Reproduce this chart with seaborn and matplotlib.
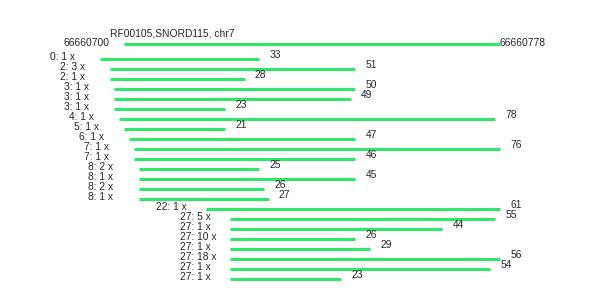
import matplotlib
matplotlib.use("Agg")
import matplotlib.pyplot as plt
import seaborn as sns
import pandas as pd

title = "RF00105,SNORD115, chr7"
genome_start_label = "66660700"
genome_end_label = "66660778"
genome_from = 5
genome_to = 83

starts = [0, 2, 2, 3, 3, 3, 4, 5, 6, 7, 7, 8, 8, 8, 8, 22, 27, 27, 27, 27, 27, 27, 27]
counts = [1, 3, 1, 1, 1, 1, 1, 1, 1, 1, 1, 2, 1, 2, 1, 1, 5, 1, 10, 1, 18, 1, 1]
lengths = [33, 51, 28, 50, 49, 23, 78, 21, 47, 76, 46, 25, 45, 26, 27, 61, 55, 44, 26, 29, 56, 54, 23]

df = pd.DataFrame({"start": starts, "count": counts, "length": lengths})
df["row"] = range(len(df))
df["end"] = df["start"] + df["length"]

sns.set_theme(style="white")
plt.rcParams["font.family"] = ["Liberation Sans", "DejaVu Sans"]

fig = plt.figure(figsize=(5.9, 3.0), dpi=100)
ax = fig.add_axes([0, 0, 1, 1])
px = 4.82
ax.set_xlim(-100 / px, (590 - 100) / px)
ax.set_ylim(24.1, -5.9)
ax.axis("off")

color = "#2ee86c"
fs = 7.4

# genome bar
ax.hlines(-1.5, genome_from, genome_to, color=color, lw=2.2)
ax.text(genome_from - 3.0, -1.6, genome_start_label, ha="right", va="center", fontsize=fs)
ax.text(genome_to - 0.2, -1.6, genome_end_label, ha="left", va="center", fontsize=fs)
ax.text(2.1, -2.6, title, ha="left", va="center", fontsize=fs)

# reads
ax.hlines(df["row"], df["start"], df["end"], color=color, lw=2.2)
for _, r in df.iterrows():
    ax.text(r["start"] - 10.4, r["row"] - 0.2, f"{r['start']}: {r['count']} x",
            ha="left", va="center", fontsize=fs)
    ax.text(r["end"] + 2.1, r["row"] - 0.4, f"{r['length']}",
            ha="left", va="center", fontsize=fs)

fig.savefig("out.png", dpi=100)
